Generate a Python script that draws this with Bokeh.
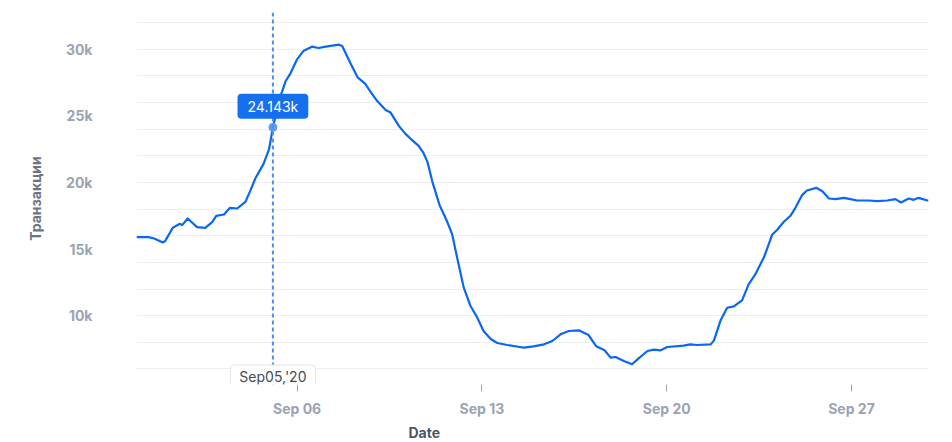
import pandas as pd
from bokeh.plotting import figure
from bokeh.models import (FixedTicker, DatetimeTickFormatter, NumeralTickFormatter,
                          Span, Label, Title, Range1d)
from bokeh.embed import file_html
from bokeh.resources import INLINE

# ---- data ----
TIMES = [
    "08-30 22:00", "08-31 09:00", "08-31 14:00", "08-31 22:00", "09-01 00:00",
    "09-01 07:00", "09-01 13:30", "09-01 15:30", "09-01 20:30", "09-02 00:30",
    "09-02 05:00", "09-02 12:30", "09-02 19:00", "09-02 22:30", "09-03 05:30",
    "09-03 11:00", "09-03 17:30", "09-04 01:00", "09-04 05:00", "09-04 10:00",
    "09-04 17:30", "09-04 22:30", "09-05 02:00", "09-05 09:00", "09-05 13:30",
    "09-05 18:00", "09-06 00:00", "09-06 06:00", "09-06 13:30", "09-06 19:30",
    "09-07 02:00", "09-07 14:00", "09-07 17:00", "09-08 00:30", "09-08 07:00",
    "09-08 14:00", "09-08 18:30", "09-09 01:00", "09-09 08:30", "09-09 13:00",
    "09-09 20:30", "09-10 02:30", "09-10 07:00", "09-10 14:30", "09-10 19:00",
    "09-10 22:30", "09-11 03:00", "09-11 09:30", "09-11 16:30", "09-11 21:00",
    "09-12 01:30", "09-12 07:30", "09-12 13:30", "09-12 19:30", "09-13 01:30",
    "09-13 08:00", "09-13 14:00", "09-13 23:00", "09-14 10:30", "09-14 14:00",
    "09-14 23:00", "09-15 08:30", "09-15 16:00", "09-15 23:30", "09-16 07:00",
    "09-16 16:00", "09-17 01:00", "09-17 08:00", "09-17 15:30", "09-17 21:00",
    "09-18 01:30", "09-18 09:00", "09-18 16:30", "09-18 22:30", "09-19 06:30",
    "09-19 12:30", "09-19 18:30", "09-20 00:30", "09-20 15:30", "09-20 21:30",
    "09-21 03:30", "09-21 16:00", "09-21 19:00", "09-22 01:00", "09-22 07:00",
    "09-22 13:00", "09-22 20:30", "09-23 02:30", "09-23 08:30", "09-23 16:30",
    "09-24 00:00", "09-24 04:30", "09-24 10:30", "09-24 16:30", "09-24 21:00",
    "09-25 03:00", "09-25 07:30", "09-25 16:00", "09-25 21:30", "09-26 03:30",
    "09-26 09:30", "09-26 17:00", "09-26 23:00", "09-27 05:00", "09-27 15:30",
    "09-27 23:30", "09-28 08:30", "09-28 16:00", "09-28 21:00", "09-29 04:00",
    "09-29 08:30", "09-29 13:00", "09-29 21:00", "09-29 22:00",
]
VALUES = [
    15900, 15900, 15800, 15500, 15600,
    16600, 16900, 16800, 17300, 17000,
    16650, 16600, 17050, 17500, 17600,
    18100, 18050, 18550, 19300, 20300,
    21400, 22500, 24143, 26500, 27600,
    28200, 29250, 29900, 30200, 30100,
    30200, 30350, 30250, 28950, 27900,
    27400, 26850, 26100, 25450, 25250,
    24250, 23650, 23300, 22750, 22200,
    21550, 20050, 18300, 17050, 16100,
    14350, 12100, 10750, 9900, 8850,
    8250, 7950, 7800, 7650, 7600,
    7700, 7850, 8100, 8600, 8850,
    8900, 8550, 7700, 7400, 6850,
    6900, 6600, 6350, 6800, 7350,
    7450, 7400, 7650, 7750, 7850,
    7800, 7850, 8150, 9650, 10600,
    10700, 11150, 12350, 13100, 14400,
    16100, 16450, 17050, 17500, 18100,
    19050, 19400, 19600, 19350, 18800,
    18750, 18850, 18750, 18650, 18650,
    18600, 18650, 18750, 18500, 18800,
    18700, 18850, 18650, 18650,
]
YEAR = "2020"
HOVER_TIME = "09-05 02:00"
HOVER_VALUE = 24143
X_TICKS = ["09-06", "09-13", "09-20", "09-27"]
Y_TICKS = [10000, 15000, 20000, 25000, 30000]
Y_GRID = list(range(6000, 32001, 2000))
X_START, X_END = "08-30 22:00", "09-29 22:00"
Y_START, Y_END = 4834, 32765

def ts(s):
    return pd.Timestamp(YEAR + "-" + s)

times = [ts(s) for s in TIMES]
hover_t = ts(HOVER_TIME)

LINE = "#0a66f5"
FONT = "Inter"

p = figure(width=952, height=442, x_axis_type="datetime",
           x_range=Range1d(ts(X_START), ts(X_END)),
           y_range=Range1d(Y_START, Y_END),
           output_backend="svg", toolbar_location=None,
           min_border_left=136, min_border_right=24,
           min_border_top=12, min_border_bottom=54)
p.title.visible = False
p.outline_line_color = None
p.background_fill_color = "white"
p.border_fill_color = "white"

p.xgrid.visible = False
p.ygrid.ticker = FixedTicker(ticks=Y_GRID)
p.ygrid.grid_line_color = "#eceef2"
p.ygrid.grid_line_width = 1

# y axis
p.yaxis.ticker = FixedTicker(ticks=Y_TICKS)
p.yaxis.formatter = NumeralTickFormatter(format="0a")
p.yaxis.axis_line_color = None
p.yaxis.major_tick_line_color = None
p.yaxis.minor_tick_line_color = None
p.yaxis.major_tick_out = 0
p.yaxis.major_tick_in = 0
p.yaxis.major_label_standoff = 44
p.yaxis.major_label_text_font = FONT
p.yaxis.major_label_text_font_size = "14px"
p.yaxis.major_label_text_font_style = "bold"
p.yaxis.major_label_text_color = "#9aa3b3"
p.yaxis.axis_label = "Транзакции"
p.yaxis.axis_label_text_font = FONT
p.yaxis.axis_label_text_font_size = "14px"
p.yaxis.axis_label_text_font_style = "bold"
p.yaxis.axis_label_text_color = "#6b7486"
p.yaxis.axis_label_standoff = 19

# x axis
p.xaxis.ticker = FixedTicker(ticks=[ts(d).value // 10**6 for d in X_TICKS])
fmt = "%b %d"
p.xaxis.formatter = DatetimeTickFormatter(milliseconds=fmt, seconds=fmt, minsec=fmt,
                                          minutes=fmt, hourmin=fmt, hours=fmt,
                                          days=fmt, months=fmt, years=fmt)
p.xaxis.axis_line_color = None
p.xaxis.minor_tick_line_color = None
p.xaxis.major_tick_line_color = "#9aa3b3"
p.xaxis.major_tick_out = 7
p.xaxis.major_tick_in = 0
p.xaxis.major_label_standoff = 8
p.xaxis.major_label_text_font = FONT
p.xaxis.major_label_text_font_size = "14px"
p.xaxis.major_label_text_font_style = "bold"
p.xaxis.major_label_text_color = "#9aa3b3"

date_title = Title(text="Date", align="left", offset=272, standoff=4,
                   text_font=FONT, text_font_size="14px", text_font_style="bold",
                   text_color="#4b5565")
p.add_layout(date_title, "below")

# series
p.line(x=times, y=VALUES, line_color=LINE, line_width=2.2, line_join="round")

# hover decorations
p.add_layout(Span(location=hover_t.value // 10**6, dimension="height",
                  line_color="#4a8df6", line_width=2, line_dash="4 3"))
p.scatter(x=[hover_t], y=[HOVER_VALUE], size=8, fill_color="#5d9df6",
          line_color="#5d9df6")

p.add_layout(Label(x=hover_t, y=HOVER_VALUE, y_offset=21,
                   text=f"{HOVER_VALUE / 1000:.3f}k",
                   text_align="center", text_baseline="middle",
                   text_color="white", text_font=FONT, text_font_size="14px",
                   background_fill_color="#1570ef", border_radius=4,
                   padding=dict(left=10, right=10, top=4, bottom=4)))

p.add_layout(Label(x=hover_t, y=Y_START, y_offset=8,
                   text=hover_t.strftime("%b%d,'%y"),
                   text_align="center", text_baseline="middle",
                   text_color="#444b55", text_font=FONT, text_font_size="14px",
                   background_fill_color="white", border_line_color="#e3e6eb",
                   border_radius=4,
                   padding=dict(left=9, right=9, top=3, bottom=3)))

open("out.html", "w").write(file_html(p, INLINE))
